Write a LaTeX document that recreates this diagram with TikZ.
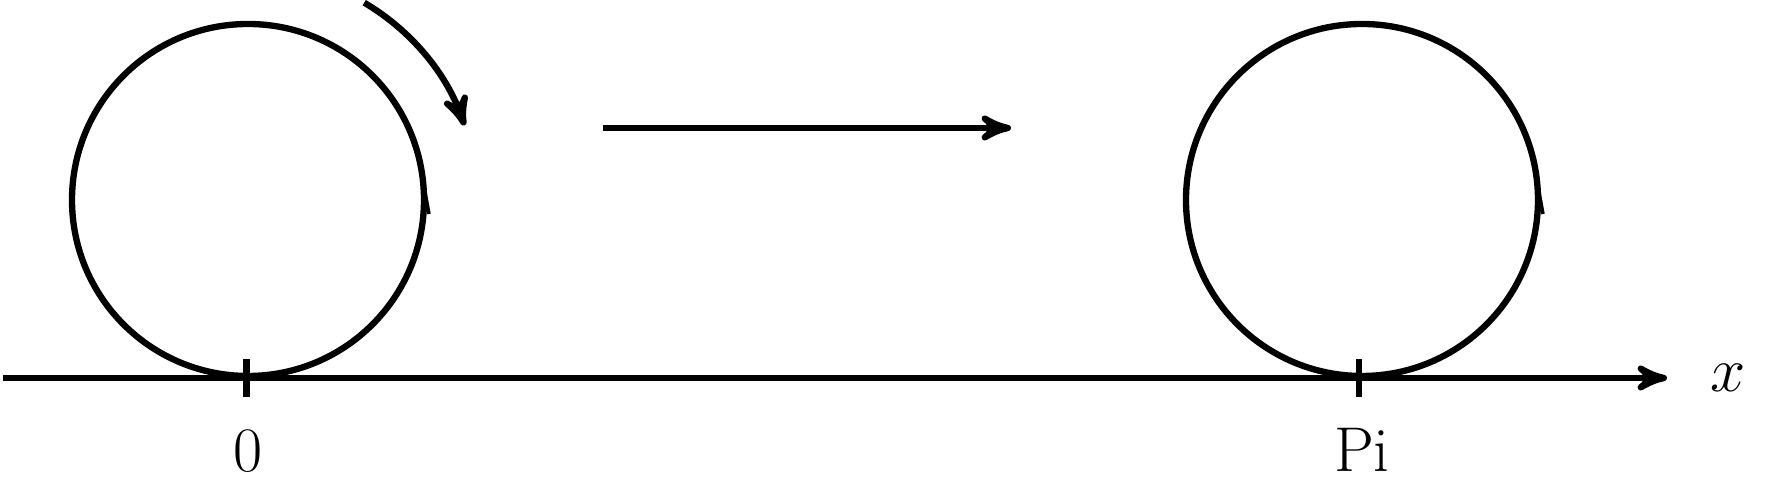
\RequirePackage{fix-cm}
\documentclass[tikz,border=0pt]{standalone}
\usepackage{amsmath}
\usetikzlibrary{arrows,calc}
\usetikzlibrary{positioning}

\begin{document}
\begin{tikzpicture}[x=0.01cm,y=0.01cm,>=stealth',line width=1.8pt,
	every node/.style={font=\fontsize{18}{22}\selectfont}]

	\useasboundingbox (0,0) rectangle (1771,498);

	%X axis
	\coordinate (xstart) at (3,120);
	\coordinate (xend) at (1667,120);
	\draw [->] (xstart) -- (xend);
	\node[anchor=base] (xlabel) at (1728,106) {$x$};

	%Circle at 0
	\coordinate (c0) at (248,298);
	\draw (c0) circle (176);
	\draw [line width=1pt] ($(c0)+(177,8)$) -- ++(4,-22);
	\coordinate (t0) at (246.5,120);
	\draw ($(t0)+(0,-19)$) -- ($(t0)+(0,19)$);
	\node[anchor=base] (l0) at (248,26) {0};

	%Rotation
	\draw [->] (c0) ++(59.5:229) arc (59.5:19:229);

	%Shift
	\coordinate (ma) at (603,370);
	\coordinate (mb) at (1011,370);
	\draw [->] (ma) -- (mb);

	%Circle at Pi
	\coordinate (c1) at (1362,298);
	\draw (c1) circle (176);
	\draw [line width=1pt] ($(c1)+(177,8)$) -- ++(4,-22);
	\coordinate (t1) at (1359,120);
	\draw ($(t1)+(0,-19)$) -- ($(t1)+(0,19)$);
	\node[anchor=base] (l1) at (1362,26) {Pi};

\end{tikzpicture}
\end{document}
